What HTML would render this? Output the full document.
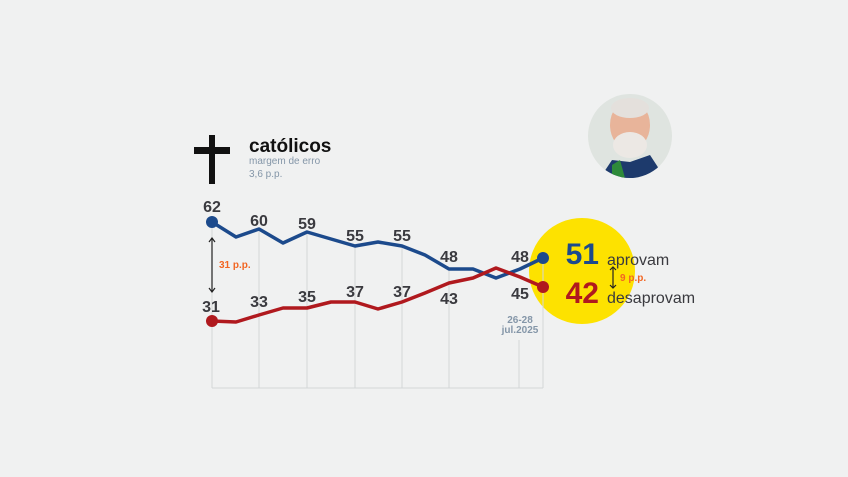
<!DOCTYPE html>
<html><head><meta charset="utf-8"><style>
html,body{margin:0;padding:0;background:#f0f1f1;overflow:hidden;}
svg{display:block;}
svg text{font-family:"Liberation Sans",sans-serif;}
</style></head><body>
<svg width="848" height="477" viewBox="0 0 848 477" xmlns="http://www.w3.org/2000/svg">
<rect width="848" height="477" fill="#f0f1f1"/>
<circle cx="582" cy="271" r="53" fill="#fde200"/>
<g stroke="#d3d6d8" stroke-width="1">
<line x1="212" y1="222" x2="212" y2="388"/>
<line x1="259" y1="229" x2="259" y2="388"/>
<line x1="307" y1="232" x2="307" y2="388"/>
<line x1="355" y1="246" x2="355" y2="388"/>
<line x1="402" y1="246" x2="402" y2="388"/>
<line x1="449" y1="269" x2="449" y2="388"/>
<line x1="519" y1="340" x2="519" y2="388"/>
<line x1="543" y1="258" x2="543" y2="388"/>
<line x1="212" y1="388" x2="543" y2="388"/>
</g>
<polyline fill="none" stroke="#1c4a8c" stroke-width="3.5" stroke-linejoin="round" points="212,222 236,237 259,229 283,243 307,232 331,239 355,246 378,242 402,246 425,255 449,269 473,269 496,278 520,269 543,258"/>
<polyline fill="none" stroke="#b0191e" stroke-width="3.5" stroke-linejoin="round" points="212,321 236,322 259,315 283,308 307,308 331,302 355,302 378,309 402,302 425,293 449,283 473,278 496,268 520,277 543,287"/>
<circle cx="212" cy="222" r="6" fill="#1c4a8c"/>
<circle cx="543" cy="258" r="6" fill="#1c4a8c"/>
<circle cx="212" cy="321" r="6" fill="#b0191e"/>
<circle cx="543" cy="287" r="6" fill="#b0191e"/>
<g font-size="16" font-weight="bold" fill="#3a3a3f" text-anchor="middle">
<text x="212" y="212">62</text><text x="259" y="226">60</text><text x="307" y="229">59</text>
<text x="355" y="241">55</text><text x="402" y="241">55</text><text x="449" y="262">48</text><text x="520" y="262">48</text>
<text x="211" y="312">31</text><text x="259" y="307">33</text><text x="307" y="302">35</text>
<text x="355" y="297">37</text><text x="402" y="297">37</text><text x="449" y="304">43</text><text x="520" y="299">45</text>
</g>
<g font-size="10" font-weight="bold" fill="#8496a8" text-anchor="middle">
<text x="520" y="323">26-28</text><text x="520" y="333">jul.2025</text>
</g>
<g stroke="#222" stroke-width="1.2" fill="none">
<line x1="212" y1="238" x2="212" y2="292"/>
<polyline points="209,242 212,238 215,242"/><polyline points="209,288 212,292 215,288"/>
<line x1="613" y1="267" x2="613" y2="288"/>
<polyline points="610,270 613,267 616,270"/><polyline points="610,285 613,288 616,285"/>
</g>
<text x="219" y="268" font-size="10" font-weight="bold" fill="#f26522">31 p.p.</text>
<text x="620" y="281" font-size="10" font-weight="bold" fill="#f26522">9 p.p.</text>
<text x="599" y="264" font-size="30" font-weight="bold" fill="#1c4a8c" text-anchor="end">51</text>
<text x="599" y="303" font-size="30" font-weight="bold" fill="#b0191e" text-anchor="end">42</text>
<text x="607" y="265" font-size="16" fill="#3a3a3f">aprovam</text>
<text x="607" y="303" font-size="16" fill="#3a3a3f">desaprovam</text>
<rect x="209" y="135" width="6" height="49" fill="#111"/>
<rect x="194" y="147" width="36" height="7" fill="#111"/>
<text x="249" y="152" font-size="19" font-weight="bold" fill="#111">católicos</text>
<text x="249" y="164" font-size="10" fill="#8496a8">margem de erro</text>
<text x="249" y="177" font-size="10" fill="#8496a8">3,6 p.p.</text>
<defs><clipPath id="c"><circle cx="630" cy="136" r="42"/></clipPath></defs>
<g clip-path="url(#c)">
<rect x="588" y="94" width="84" height="84" fill="#dfe4e0"/>
<ellipse cx="630" cy="125" rx="20" ry="25" fill="#e8b49a"/>
<ellipse cx="630" cy="108" rx="19" ry="10" fill="#e4e0dc"/>
<ellipse cx="630" cy="145" rx="17" ry="13" fill="#ece8e4"/>
<path d="M600 178 L612 160 L630 162 L650 155 L665 178Z" fill="#1d3a6c"/>
<path d="M612 165 L620 160 L625 178 L612 178Z" fill="#2e8a3a"/>
</g>
</svg>
</body></html>
